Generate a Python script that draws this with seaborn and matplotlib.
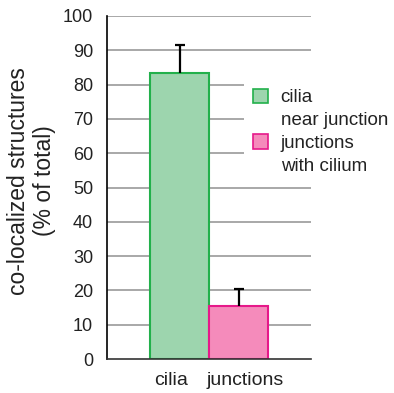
import pandas as pd
import seaborn as sns
import matplotlib.pyplot as plt
from matplotlib.patches import Patch
from matplotlib.transforms import ScaledTranslation

sns.set_style("white")
plt.rcParams['font.family'] = ['Liberation Sans', 'DejaVu Sans']

# data
categories = ["cilia", "junctions"]
values = [83.5, 15.5]
errors = [8.0, 5.0]
legend_labels = [["cilia", "near junction"], ["junctions", "with cilium"]]
fill_colors = ["#9dd5ae", "#f58bbb"]
edge_colors = ["#22b04b", "#e6198a"]

df = pd.DataFrame({"category": categories, "value": values})

fig = plt.figure(figsize=(3.94, 3.93), dpi=100)
ax = fig.add_axes([0.2716, 0.0865, 0.5178, 0.8728])

# grid lines behind the bars
for yv in range(10, 101, 10):
    ax.axhline(yv, color="#999999", lw=1.2, zorder=0)

sns.barplot(data=df, x="category", y="value", hue="category",
            palette=fill_colors, saturation=1, width=1.0, errorbar=None,
            legend=False, ax=ax, zorder=2)
for bar, ec in zip(ax.patches, edge_colors):
    bar.set_edgecolor(ec)
    bar.set_linewidth(1.5)

# one-sided error bars (hide the lower cap)
eb = ax.errorbar(range(len(values)), values, yerr=[[0] * len(errors), errors],
                 fmt="none", ecolor="black", elinewidth=1.6, capsize=3.5,
                 capthick=1.6, zorder=3)
eb[1][0].set_visible(False)

ax.set_xlim(-1.229, 2.229)
ax.set_ylim(0, 100)
ax.set_yticks(range(0, 101, 10))
ax.tick_params(axis="y", length=4, width=1, color="black", labelsize=13,
               labelcolor="#222222", pad=6)
ax.tick_params(axis="x", length=0, labelsize=14, labelcolor="#222222", pad=9)
# labels sit a little apart from the bar centres in the original
for lab, dx in zip(ax.get_xticklabels(), [-0.08, 0.07]):
    lab.set_transform(lab.get_transform() + ScaledTranslation(dx, 0, fig.dpi_scale_trans))
ax.set_xlabel("")
ax.set_ylabel("co-localized structures\n(% of total)", fontsize=16.5,
              color="#222222", linespacing=1.18)
ax.yaxis.set_label_coords(-0.25, 0.52)

sns.despine(ax=ax)
ax.spines["left"].set_color("black")
ax.spines["left"].set_linewidth(1.2)
ax.spines["bottom"].set_color("#333333")
ax.spines["bottom"].set_linewidth(1.2)

# legend: patch beside the first line, second line without handle
handles, labels = [], []
for f, e, lab in zip(fill_colors, edge_colors, legend_labels):
    handles.append(Patch(facecolor=f, edgecolor=e, linewidth=1.2))
    labels.append(lab[0])
    handles.append(Patch(facecolor="none", edgecolor="none"))
    labels.append(lab[1])
leg = ax.legend(handles, labels, loc="upper left", bbox_to_anchor=(0.672, 0.813),
                borderaxespad=0, frameon=True, facecolor="white",
                edgecolor="none", framealpha=1, fontsize=13.5,
                handlelength=0.8, handleheight=0.8, handletextpad=0.7,
                labelspacing=0.28, borderpad=0.45)
for t in leg.get_texts():
    t.set_color("#222222")

fig.savefig("out.png", dpi=100)
